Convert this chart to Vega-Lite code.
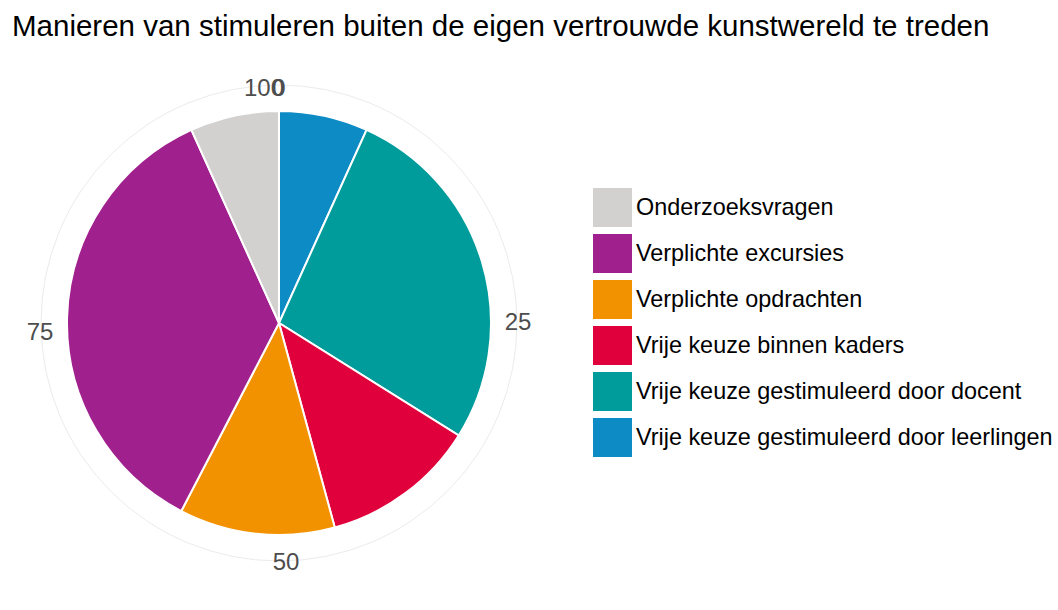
{
  "$schema": "https://vega.github.io/schema/vega-lite/v6.json",
  "autosize": {"type": "none"},
  "padding": {"top": 60, "left": 0, "right": 500, "bottom": 24},
  "width": 558,
  "height": 526,
  "background": "white",
  "config": {
    "view": {"stroke": null},
    "text": {"font": "Liberation Sans", "fontSize": 24, "color": "#4d4d4d", "align": "center", "baseline": "middle", "radius": 239}
  },
  "title": {
    "text": "Manieren van stimuleren buiten de eigen vertrouwde kunstwereld te treden",
    "anchor": "start",
    "frame": "group",
    "orient": "top",
    "font": "Liberation Sans",
    "fontSize": 29.5,
    "fontWeight": "normal",
    "color": "#000000",
    "baseline": "alphabetic",
    "offset": -5,
    "dx": 12
  },
  "layer": [
    {
      "data": {"values": [{"v": 1}]},
      "mark": {"type": "arc", "outerRadius": 238, "filled": false, "stroke": "#ebebeb", "strokeWidth": 1},
      "encoding": {
        "theta": {"field": "v", "type": "quantitative", "stack": "normalize", "scale": {"domain": [0, 1]}}
      }
    },
    {
      "data": {
        "values": [
          {"category": "Vrije keuze gestimuleerd door leerlingen", "count": 4, "ord": 1},
          {"category": "Vrije keuze gestimuleerd door docent", "count": 16, "ord": 2},
          {"category": "Vrije keuze binnen kaders", "count": 7, "ord": 3},
          {"category": "Verplichte opdrachten", "count": 7, "ord": 4},
          {"category": "Verplichte excursies", "count": 21, "ord": 5},
          {"category": "Onderzoeksvragen", "count": 4, "ord": 6}
        ]
      },
      "mark": {"type": "arc", "outerRadius": 212, "stroke": "white", "strokeWidth": 2},
      "encoding": {
        "theta": {"field": "count", "type": "quantitative", "stack": "normalize", "scale": {"domain": [0, 1]}},
        "order": {"field": "ord", "type": "quantitative"},
        "color": {
          "field": "category",
          "type": "nominal",
          "scale": {
            "domain": ["Onderzoeksvragen", "Verplichte excursies", "Verplichte opdrachten", "Vrije keuze binnen kaders", "Vrije keuze gestimuleerd door docent", "Vrije keuze gestimuleerd door leerlingen"],
            "range": ["#D3D0D0", "#A0208E", "#F39200", "#E0003C", "#009B9B", "#0C8BC5"]
          },
          "legend": {
            "title": null,
            "orient": "none",
            "legendX": 593,
            "legendY": 128,
            "padding": 0,
            "symbolType": "square",
            "symbolSize": 1521,
            "symbolStrokeWidth": 0,
            "symbolOpacity": 1,
            "labelFont": "Liberation Sans",
            "labelFontSize": 23.4,
            "labelColor": "#000000",
            "labelOffset": 4,
            "labelLimit": 600,
            "rowPadding": 7
          }
        }
      }
    },
    {
      "data": {"values": [{"label": "0", "pos": 0}]},
      "mark": {"type": "text", "dy": 5},
      "encoding": {
        "theta": {"field": "pos", "type": "quantitative", "stack": null, "scale": {"domain": [0, 1]}},
        "text": {"field": "label"}
      }
    },
    {
      "data": {"values": [{"label": "100", "pos": 1}]},
      "mark": {"type": "text", "align": "right", "dx": 5, "dy": 5},
      "encoding": {
        "theta": {"field": "pos", "type": "quantitative", "stack": null, "scale": {"domain": [0, 1]}},
        "text": {"field": "label"}
      }
    },
    {
      "data": {"values": [{"label": "25", "pos": 0.25}]},
      "mark": {"type": "text"},
      "encoding": {
        "theta": {"field": "pos", "type": "quantitative", "stack": null, "scale": {"domain": [0, 1]}},
        "text": {"field": "label"}
      }
    },
    {
      "data": {"values": [{"label": "50", "pos": 0.5}]},
      "mark": {"type": "text", "dx": 7, "dy": 1},
      "encoding": {
        "theta": {"field": "pos", "type": "quantitative", "stack": null, "scale": {"domain": [0, 1]}},
        "text": {"field": "label"}
      }
    },
    {
      "data": {"values": [{"label": "75", "pos": 0.75}]},
      "mark": {"type": "text", "dy": 10},
      "encoding": {
        "theta": {"field": "pos", "type": "quantitative", "stack": null, "scale": {"domain": [0, 1]}},
        "text": {"field": "label"}
      }
    }
  ]
}
